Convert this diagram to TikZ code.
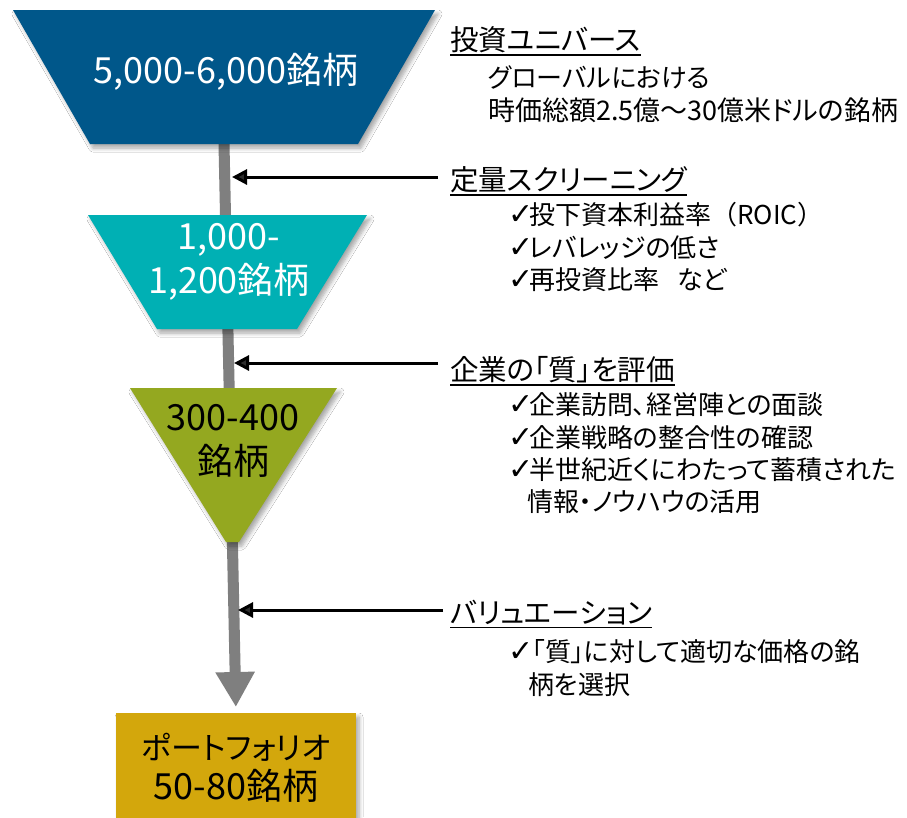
\documentclass[tikz,border=0pt]{standalone}
\usepackage{fontspec}
\setmainfont[RawFeature=+palt]{Noto Sans CJK JP}
\newfontfamily\jpfull{Noto Sans CJK JP}
\newfontfamily\dvsans{DejaVu Sans}
\usetikzlibrary{arrows.meta,shadows.blur}
\definecolor{dblue}{RGB}{0,87,138}
\definecolor{teal2}{RGB}{0,176,180}
\definecolor{olive2}{RGB}{148,168,32}
\definecolor{gold2}{RGB}{211,167,12}
\definecolor{barg}{RGB}{127,127,127}
\newcommand\ckm{\makebox[21pt][l]{\dvsans\fontsize{30}{30}\selectfont ✓}}
\begin{document}
\begin{tikzpicture}[x=1pt,y=-1pt,
  shd/.style={blur shadow={shadow xshift=3pt,shadow yshift=-4pt,shadow blur steps=6,shadow blur radius=4pt,shadow opacity=35}},
  funtxt/.style={inner sep=0pt,align=center,font=\fontsize{36}{44}\selectfont},
  headtxt/.style={anchor=west,inner sep=0pt,font=\fontsize{28.5}{32}\selectfont},
  bodytxt/.style={anchor=west,inner sep=0pt,font=\fontsize{26}{30}\selectfont},
  uline/.style={line width=1.3pt},
  ptr/.style={line width=3pt,-{Triangle[length=15pt,width=15pt]}},
  barline/.style={draw=barg,line width=11pt,-{Triangle[length=35pt,width=37pt]},shorten >=6pt}]
\useasboundingbox (0,0) rectangle (907,817);
\fill[white] (0,0) rectangle (907,817);

% coordinates of the funnel ends
\coordinate (t1b) at (224,144);
\coordinate (pfn) at (236,713);

% central gray bar (behind shapes)
\draw[barline] (t1b) -- (pfn);

% funnel 1
\path[fill=dblue,shd] (13,10) -- (435,10) -- (358,144) -- (90,144) -- cycle;
\node[funtxt,text=white] (f1) at (226,72) {5,000-6,000銘柄};

% funnel 2
\path[fill=teal2,shd] (88,215) -- (367,215) -- (297,329) -- (157,329) -- cycle;
\node[funtxt,text=white] (f2) at (229,262) {1,000-\\1,200銘柄};

% funnel 3
\path[fill=olive2,shd] (130,388) -- (337,388) -- (239,542) -- (226,542) -- cycle;
\node[funtxt,text=black] (f3) at (233,441) {300-400\\銘柄};

% portfolio box
\path[fill=gold2,shd] (116,713) rectangle (356,830);
\node[funtxt,text=black,font=\fontsize{36}{40}\selectfont] (pf) at (236,768) {{\fontsize{31}{40}\selectfont ポートフォリオ}\\50-80銘柄};

% right side texts
\node[headtxt] (h1) at (450,40) {投資ユニバース};
\draw[uline] ([yshift=-1.5pt]h1.south west) -- ([yshift=-1.5pt]h1.south east);
\node[bodytxt] (b1) at (488,77) {グローバルにおける};
\node[bodytxt,font=\fontsize{27}{30}\selectfont] (b2) at (488,110) {時価総額2.5億～30億米ドルの銘柄};

\node[headtxt] (h2) at (450,180) {定量スクリーニング};
\draw[uline] ([yshift=-1.5pt]h2.south west) -- ([yshift=-1.5pt]h2.south east);
\node[bodytxt] (c1) at (508,215) {\ckm 投下資本利益率{\jpfull （}ROIC{\jpfull ）}};
\node[bodytxt] (c2) at (508,248) {\ckm レバレッジの低さ};
\node[bodytxt] (c3) at (508,280) {\ckm 再投資比率\hspace{0.7em}など};

\node[headtxt] (h3) at (450,370) {企業の「質」を評価};
\draw[uline] ([yshift=-1.5pt]h3.south west) -- ([yshift=-1.5pt]h3.south east);
\node[bodytxt] (d1) at (508,405) {\ckm 企業訪問、経営陣との面談};
\node[bodytxt] (d2) at (508,438) {\ckm 企業戦略の整合性の確認};
\node[bodytxt] (d3) at (508,470) {\ckm 半世紀近くにわたって蓄積された};
\node[bodytxt] (d4) at (527,502) {情報・ノウハウの活用};

\node[headtxt] (h4) at (450,613) {バリュエーション};
\draw[uline] ([yshift=-1.5pt]h4.south west) -- ([yshift=-1.5pt]h4.south east);
\node[bodytxt] (e1) at (508,652) {\ckm\hspace{3pt}「質」に対して適切な価格の銘};
\node[bodytxt] (e2) at (528,685) {柄を選択};

% black pointer arrows
\coordinate (a1s) at (438,177);
\coordinate (a1e) at (232,177);
\coordinate (a2s) at (438,363);
\coordinate (a2e) at (234,363);
\coordinate (a3s) at (443,610);
\coordinate (a3e) at (238,610);
\draw[ptr] (a1s) -- (a1e);
\draw[ptr] (a2s) -- (a2e);
\draw[ptr] (a3s) -- (a3e);
\end{tikzpicture}
\end{document}
